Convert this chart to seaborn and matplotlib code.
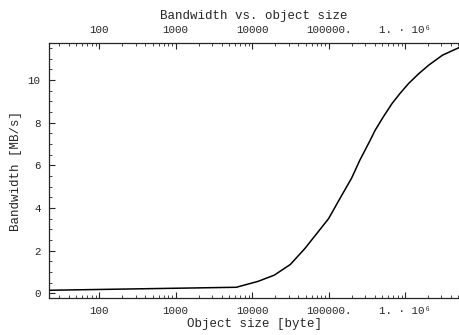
import numpy as np
import pandas as pd
import seaborn as sns
import matplotlib.pyplot as plt
from matplotlib.ticker import FixedLocator, FixedFormatter, LogLocator, MultipleLocator, NullFormatter

# donnees
taille = [22, 6200, 12000, 19500, 31600, 49000, 100000, 141000, 200000, 257000,
          347000, 407000, 525000, 676000, 871000, 1120000, 1510000, 2040000,
          3090000, 5130000]
debit = [0.14, 0.28, 0.56, 0.85, 1.35, 2.1, 3.5, 4.45, 5.4, 6.25,
         7.15, 7.65, 8.3, 8.9, 9.4, 9.85, 10.3, 10.7, 11.17, 11.53]

xticks = [100, 1000, 10000, 100000, 1000000]
xlabels = ["100", "1000", "10000", "100000.", "1. \u00b7 10\u2076"]

sns.set_style("ticks")
plt.rcParams['font.family'] = ['Liberation Mono', 'DejaVu Sans Mono']

df = pd.DataFrame({"taille": taille, "debit": debit})

fig = plt.figure(figsize=(4.6, 3.35), dpi=100)
ax = fig.add_axes([0.1065, 0.11, 0.892, 0.7616])
sns.lineplot(data=df, x="taille", y="debit", color="black", linewidth=1.1, ax=ax)
ax.set_xscale("log")
ax.set_xlim(22, 5130000)
ax.set_ylim(-0.23, 11.74)

ax.xaxis.set_major_locator(FixedLocator(xticks))
ax.xaxis.set_major_formatter(FixedFormatter(xlabels))
ax.xaxis.set_minor_locator(LogLocator(base=10, subs=np.arange(2, 10), numticks=20))
ax.xaxis.set_minor_formatter(NullFormatter())
ax.yaxis.set_major_locator(MultipleLocator(2))
ax.yaxis.set_minor_locator(MultipleLocator(0.5))

ax.tick_params(which="major", direction="in", length=4, width=0.8, labelsize=7.8,
               top=True, labeltop=True, bottom=True, labelbottom=True, left=True, right=False)
ax.tick_params(which="minor", direction="in", length=2, width=0.6, top=True, bottom=True, right=False)
ax.tick_params(axis="both", pad=6)

for s in ["top", "bottom", "left"]:
    ax.spines[s].set_linewidth(0.9)
ax.spines["right"].set_visible(False)

ax.set_xlabel("Object size [byte]", fontsize=9, labelpad=1)
ax.set_ylabel("Bandwidth [MB/s]", fontsize=9, labelpad=4)
ax.set_title("Bandwidth vs. object size", fontsize=9, pad=1, y=1.09)

fig.savefig("out.png", dpi=100)
